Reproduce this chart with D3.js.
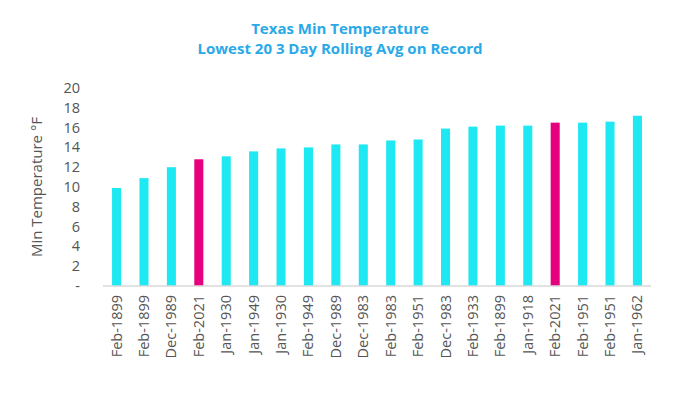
<!DOCTYPE html>
<html><head><meta charset="utf-8">
<script src="https://cdn.jsdelivr.net/npm/d3@7"></script>
<style>body{margin:0;background:#fff;font-family:"Open Sans",sans-serif;}</style>
</head><body><div id="chart"></div>
<script>
var labels = ["Feb-1899","Feb-1899","Dec-1989","Feb-2021","Jan-1930","Jan-1949","Jan-1930","Feb-1949","Dec-1989","Dec-1983","Feb-1983","Feb-1951","Dec-1983","Feb-1933","Feb-1899","Jan-1918","Feb-2021","Feb-1951","Feb-1951","Jan-1962"];
var values = [9.9,10.9,12.0,12.8,13.1,13.6,13.9,14.0,14.3,14.3,14.7,14.8,15.9,16.1,16.2,16.2,16.5,16.5,16.6,17.2];
var yTicks = [0,2,4,6,8,10,12,14,16,18,20];

var w = 680, h = 400;
var svg = d3.select("#chart").append("svg").attr("width", w).attr("height", h);

var x = d3.scaleBand().domain(d3.range(labels.length)).range([103, 651]).paddingInner(0.67).paddingOuter(0.33);
var y = d3.scaleLinear().domain([0, 20]).range([286, 88]);

svg.append("text").attr("x", 340).attr("y", 34).attr("text-anchor", "middle")
    .style("font-weight", "bold").style("font-size", "15px").attr("fill", "#2aa9e8")
    .text("Texas Min Temperature");
svg.append("text").attr("x", 340).attr("y", 54).attr("text-anchor", "middle")
    .style("font-weight", "bold").style("font-size", "15px").attr("fill", "#2aa9e8")
    .text("Lowest 20 3 Day Rolling Avg on Record");

// y tick labels, zero shown as "-"
svg.selectAll(".yt").data(yTicks).enter().append("text")
    .attr("x", 80).attr("y", function (d) { return y(d); })
    .attr("dy", "0.35em")
    .attr("text-anchor", "end").style("font-size", "14.5px").attr("fill", "#555")
    .text(function (d) { return d === 0 ? "-" : d; });

svg.append("text").attr("transform", "translate(42," + y(10) + ") rotate(-90)")
    .attr("text-anchor", "middle").style("font-size", "15px").attr("fill", "#555")
    .text("Min Temperature °F");

svg.selectAll(".bar").data(values).enter().append("rect")
    .attr("x", function (d, i) { return x(i); })
    .attr("width", x.bandwidth())
    .attr("y", function (d) { return y(d); })
    .attr("height", function (d) { return y(0) - y(d); })
    .attr("fill", function (d, i) { return labels[i] === "Feb-2021" ? "#e6007e" : "#1ee9f2"; });

svg.append("line").attr("x1", 103).attr("x2", 651).attr("y1", y(0)).attr("y2", y(0))
    .attr("stroke", "#d9d9d9").attr("stroke-width", 1.5);

svg.selectAll(".xl").data(labels).enter().append("text")
    .attr("transform", function (d, i) {
        return "translate(" + (x(i) + x.bandwidth() / 2 + 5) + ",295) rotate(-90)";
    })
    .attr("text-anchor", "end").style("font-size", "14.5px").attr("fill", "#555")
    .text(function (d) { return d; });
</script>
</body></html>
